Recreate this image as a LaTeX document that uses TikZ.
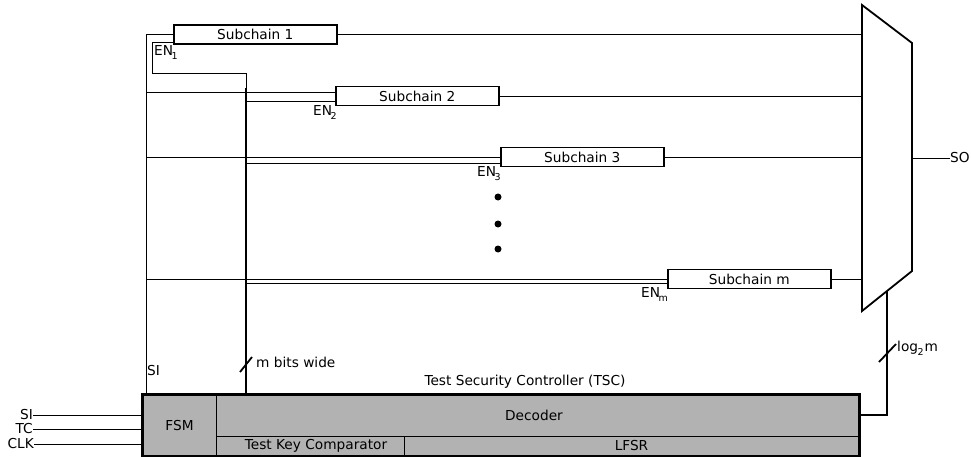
\documentclass[tikz,border=0pt]{standalone}
\usepackage{fontspec}
\setmainfont{DejaVu Sans}
\begin{document}
\begin{tikzpicture}[x=1pt,y=-1pt,
  font=\fontsize{13.7}{16}\selectfont,
  wire/.style={line width=0.9pt},
  heavy/.style={line width=1.8pt},
  chainbox/.style={draw, line width=1.6pt, fill=white, minimum width=163pt, minimum height=19pt, inner sep=0pt, anchor=west},
  lbl/.style={inner sep=0pt},
  blk/.style={draw, line width=0.8pt, inner sep=0pt},
  dot/.style={circle, fill=black, inner sep=0pt, minimum size=7pt}]
\useasboundingbox (0,0) rectangle (971,457);
\newcommand{\ENsub}[1]{EN\kern-1.5pt\raisebox{-4pt}{\fontsize{9.5}{9.5}\selectfont #1}}

% subchains
\node[chainbox] (s1) at (173,34.5) {Subchain 1};
\node[chainbox] (s2) at (335,96) {Subchain 2};
\node[chainbox] (s3) at (500,157) {Subchain 3};
\node[chainbox] (sm) at (667,279) {Subchain m};

% mux
\coordinate (m1) at (862,5);
\coordinate (m2) at (912,43);
\coordinate (m3) at (912,271);
\coordinate (m4) at (862,311);
\draw[heavy, line join=miter] (m1) -- (m2) -- (m3) -- (m4) -- cycle;

% TSC
\node[draw, heavy, fill=black!30, minimum width=716pt, minimum height=61pt, inner sep=0pt] (tsc) at (501,425.5) {};
\node[blk, minimum width=73pt, minimum height=61pt] (fsm) at (179.5,425.5) {FSM};
\node[blk, minimum width=643pt, minimum height=41pt] (dec) at (537.5,415.5) {\hspace*{-7pt}Decoder};
\node[blk, minimum width=188pt, minimum height=20pt] (tkc) at (310,446) {\hspace*{12pt}Test Key Comparator};
\node[blk, minimum width=455pt, minimum height=20pt] (lfsr) at (631.5,446) {LFSR};
\draw[heavy] (tsc.north west) rectangle (tsc.south east);
\node[lbl] (title) at (525,382) {Test Security Controller (TSC)};

% SI distribution
\coordinate (siTop) at (146,34.5);
\coordinate (siBot) at (146,395);
\draw[wire] (siBot) -- (siTop) -- (s1.west);
\coordinate (s2in) at ([yshift=4pt]s2.west);
\draw[wire] (s2in -| siTop) -- (s2in);
\draw[wire] (s3.west -| siTop) -- (s3.west);
\draw[wire] (sm.west -| siTop) -- (sm.west);
\node[lbl, anchor=west] (silbl) at (147,371) {SI};

% enable bus
\coordinate (busTop) at (246,88);
\coordinate (busBot) at (246,395);
\draw[heavy] (busTop) -- (busBot);
\coordinate (en1) at ([yshift=-7.5pt]s1.west);
\coordinate (en1c) at (152,73);
\draw[wire] (en1) -| (en1c) -| (busTop);
\coordinate (en2) at ([yshift=-5pt]s2.west);
\draw[wire] (en2 -| busTop) -- (en2);
\coordinate (en3) at ([yshift=-6pt]s3.west);
\draw[wire] (en3 -| busTop) -- (en3);
\coordinate (enm) at ([yshift=-4pt]sm.west);
\draw[wire] (enm -| busTop) -- (enm);
\draw[heavy] (240,372) -- (252,357);
\node[lbl, anchor=west] (mbits) at (256,362) {m bits wide};

\node[lbl, anchor=west] (en1l) at (154,53) {\ENsub{1}};
\node[lbl, anchor=west] (en2l) at (313,113) {\ENsub{2}};
\node[lbl, anchor=west] (en3l) at (477,174) {\ENsub{3}};
\node[lbl, anchor=west] (enml) at (641,295) {\ENsub{m}};

% outputs to mux
\draw[wire] (s1.east) -- (s1.east -| m1);
\draw[wire] (s2.east) -- (s2.east -| m1);
\draw[wire] (s3.east) -- (s3.east -| m1);
\draw[wire] (sm.east) -- (sm.east -| m1);

% dots
\node[dot] (d1) at (498,197) {};
\node[dot] (d2) at (498,224) {};
\node[dot] (d3) at (498,249) {};

% SO
\coordinate (soA) at (912,158);
\node[lbl, anchor=west] (so) at (950,158) {SO};
\draw[wire] (soA) -- (so.west);

% select line
\coordinate (selA) at (887,291);
\coordinate (selB) at (887,415);
\draw[heavy] (selA) -- (selB) -- (selB -| tsc.east);
\draw[heavy] (879,362) -- (896,344);
\node[lbl, anchor=west] (logm) at (897,348) {log\kern-0.5pt\raisebox{-4pt}{\fontsize{9.5}{9.5}\selectfont 2}\kern1pt m};

% inputs
\node[lbl, anchor=east] (inSI) at (33,415) {SI};
\node[lbl, anchor=east] (inTC) at (33,429) {TC};
\node[lbl, anchor=east] (inCLK) at (34,444) {CLK};
\draw[wire] (inSI.east) -- (inSI.east -| tsc.west);
\draw[wire] (inTC.east) -- (inTC.east -| tsc.west);
\draw[wire] (inCLK.east) -- (inCLK.east -| tsc.west);
\end{tikzpicture}
\end{document}
